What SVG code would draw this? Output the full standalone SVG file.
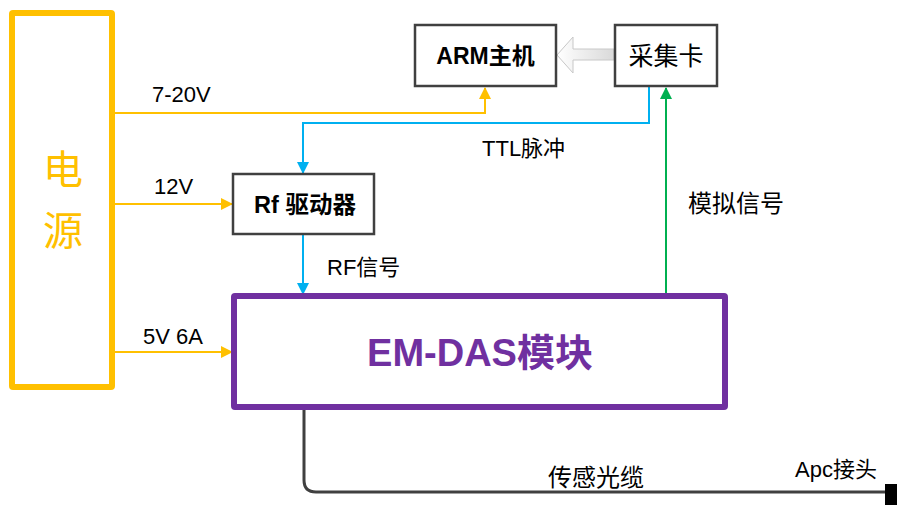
<svg xmlns="http://www.w3.org/2000/svg" width="897" height="512" viewBox="0 0 897 512">
  <defs>
    <style>
      .box { fill: #ffffff; stroke: #404040; stroke-width: 2.5; }
      .lbl { font-family: "Liberation Sans", "Noto Sans CJK SC", sans-serif; font-size: 22px; fill: #000; }
      .cjk { font-family: "Liberation Sans", "Noto Sans CJK SC", sans-serif; font-size: 24px; fill: #000; }
      .bold { font-family: "Liberation Sans", "Noto Sans CJK SC", sans-serif; font-weight: bold; }
      .pw { stroke: #FFC000; stroke-width: 2; fill: none; }
      .ttl { stroke: #00B0F0; stroke-width: 2; fill: none; }
      .ana { stroke: #00B050; stroke-width: 2; fill: none; }
    </style>
    <marker id="ay" markerWidth="12" markerHeight="12" refX="11" refY="6" orient="auto" markerUnits="userSpaceOnUse">
      <path d="M0,0 L12,6 L0,12 Z" fill="#FFC000"/>
    </marker>
    <marker id="ab" markerWidth="12" markerHeight="12" refX="11" refY="6" orient="auto" markerUnits="userSpaceOnUse">
      <path d="M0,0 L12,6 L0,12 Z" fill="#00B0F0"/>
    </marker>
    <marker id="ag" markerWidth="12" markerHeight="12" refX="11" refY="6" orient="auto" markerUnits="userSpaceOnUse">
      <path d="M0,0 L12,6 L0,12 Z" fill="#00B050"/>
    </marker>
    <linearGradient id="hollow" x1="0" y1="0" x2="1" y2="0">
      <stop offset="0" stop-color="#ffffff"/>
      <stop offset="1" stop-color="#d9d9d9"/>
    </linearGradient>
  </defs>

  <!-- connectors -->
  <g id="connectors">
    <path class="pw" d="M115,113 H485 V88" marker-end="url(#ay)"/>
    <path class="pw" d="M115,204 H232" marker-end="url(#ay)"/>
    <path class="pw" d="M115,352 H232" marker-end="url(#ay)"/>
    <path class="ttl" d="M649,87 V123 H303 V173" marker-end="url(#ab)"/>
    <path class="ttl" d="M303,235 V294" marker-end="url(#ab)"/>
    <path class="ana" d="M666,294 V88" marker-end="url(#ag)"/>
    <!-- data transfer from acquisition card to ARM host -->
    <path d="M614,49 H573 V37 L557,55 L573,73 V60 H614 Z" fill="url(#hollow)" stroke="#c8c8c8" stroke-width="1"/>
    <!-- sensing fibre to APC connector -->
    <path d="M304,408 V480 Q304,492 316,492 H886" fill="none" stroke="#404040" stroke-width="3"/>
    <rect x="885" y="484" width="12" height="21" fill="#000"/>
    <text class="lbl" x="152" y="102">7-20V</text>
    <text class="lbl" x="154" y="194">12V</text>
    <text class="lbl" x="143" y="344">5V 6A</text>
    <text class="lbl" x="482" y="156">TTL脉冲</text>
    <text class="lbl" x="327" y="275">RF信号</text>
    <text class="cjk" x="688" y="212">模拟信号</text>
    <text class="cjk" x="548" y="486">传感光缆</text>
    <text class="lbl" x="795" y="477">Apc接头</text>
  </g>

  <g id="power">
    <rect x="12" y="13" width="100" height="374" fill="#fff" stroke="#FFC000" stroke-width="6" rx="1"/>
    <text x="63" y="184" text-anchor="middle" font-family="Noto Sans CJK SC, sans-serif" font-size="40" fill="#FFC000">电</text>
    <text x="63" y="245" text-anchor="middle" font-family="Noto Sans CJK SC, sans-serif" font-size="40" fill="#FFC000">源</text>
  </g>

  <g id="arm">
    <rect class="box" x="415" y="25" width="141" height="61"/>
    <text class="bold" x="485.5" y="64" text-anchor="middle" font-size="23" fill="#000">ARM主机</text>
  </g>

  <g id="daq">
    <rect class="box" x="615" y="25" width="102" height="61"/>
    <text x="666" y="65" text-anchor="middle" font-family="Liberation Sans, Noto Sans CJK SC, sans-serif" font-size="25" fill="#000">采集卡</text>
  </g>

  <g id="rf-driver">
    <rect class="box" x="233" y="174" width="141" height="60"/>
    <text class="bold" x="305" y="213" text-anchor="middle" font-size="23.5" fill="#000">Rf 驱动器</text>
  </g>

  <g id="em-das">
    <rect x="234" y="296" width="491" height="111" fill="#fff" stroke="#7030A0" stroke-width="6" rx="1"/>
    <text class="bold" x="480" y="366" text-anchor="middle" font-size="38" fill="#7030A0">EM-DAS模块</text>
  </g>
</svg>
